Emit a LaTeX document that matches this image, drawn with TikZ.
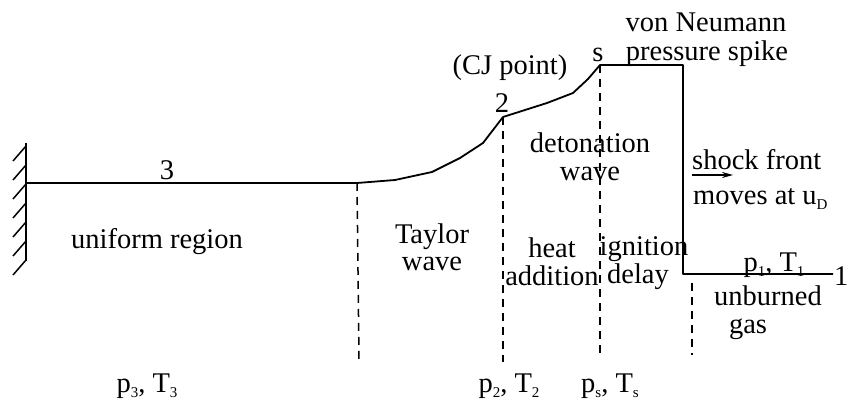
\documentclass[tikz,border=0pt]{standalone}
\usepackage{fontspec}
\setmainfont{Liberation Serif}
\usetikzlibrary{arrows.meta}
\newcommand\lsub[1]{\raisebox{-5pt}{\fontsize{15}{15}\selectfont #1}}
\begin{document}
\begin{tikzpicture}[x=1pt,y=-1pt,
  lbl/.style={inner sep=0pt,anchor=base,font=\fontsize{28.5}{29}\selectfont},
  lbll/.style={lbl,anchor=base west},
  prof/.style={line width=1.8pt,line join=round},
  dashln/.style={line width=1.5pt,dash pattern=on 8pt off 6pt},
  hatch/.style={line width=1.5pt}]
\useasboundingbox (0,0) rectangle (850,403);
% wall
\coordinate (wt) at (26,143);
\coordinate (wb) at (26,261);
\draw[prof] (wt) -- (wb);
\foreach \k in {0,...,6}{
  \draw[hatch] (26,{146+19*\k}) -- (13,{161+19*\k});
}
% profile
\coordinate (p3) at (26,183);
\coordinate (tw) at (357,183);
\coordinate (cj) at (503,117);
\coordinate (sp) at (600,65);
\coordinate (sh) at (683,65);
\coordinate (shb) at (683,274);
\coordinate (p1) at (833,274);
\draw[prof] (p3) -- (tw) -- (395,180) -- (432,172) -- (460,158) -- (483,143) -- (cj)
  -- (547,103) -- (573,93) -- (588,79) -- (sp) -- (sh) -- (shb) -- (p1);
% dashed separators
\coordinate (tw2) at (359,360);
\coordinate (cj2) at (503,362);
\coordinate (sp2) at (600,358);
\coordinate (u1) at (692,283);
\coordinate (u2) at (692,355);
\draw[dashln] (tw) -- (tw2);
\draw[dashln] (cj) -- (cj2);
\draw[dashln] (sp) -- (sp2);
\draw[dashln] (u1) -- (u2);
% arrow
\coordinate (a1) at (692,175);
\coordinate (a2) at (733,175);
\draw[line width=1.5pt,-{Stealth[length=11pt,width=6pt]}] (a1) -- (a2);
% labels
\node[lbl] (l3) at (167,180) {3};
\node[lbl] (lur) at (157,248) {uniform region};
\node[lbl] (ltay1) at (432,243) {Taylor};
\node[lbl] (ltay2) at (432,270) {wave};
\node[lbl] (lcj) at (510,75) {(CJ point)};
\node[lbl] (l2) at (502,113) {2};
\node[lbl] (ls) at (598,62) {s};
\node[lbl] (lvn1) at (706,32) {von Neumann};
\node[lbl] (lvn2) at (707,61) {pressure spike};
\node[lbl] (ldet1) at (590,153) {detonation};
\node[lbl] (ldet2) at (590,181) {wave};
\node[lbl] (lheat1) at (552,257) {heat};
\node[lbl] (lheat2) at (552,285) {addition};
\node[lbl] (lign1) at (644,255) {ignition};
\node[lbl] (lign2) at (638,283) {delay};
\node[lbll] (lsf1) at (692,170) {shock front};
\node[lbll] (lsf2) at (693,205) {moves at u\lsub{D}};
\node[lbl] (lp1) at (774,271) {p\lsub{1}, T\lsub{1}};
\node[lbll] (l1) at (834,285) {1};
\node[lbl] (lub1) at (768,305) {unburned};
\node[lbl] (lub2) at (748,333) {gas};
\node[lbl] (lpt3) at (147,392) {p\lsub{3}, T\lsub{3}};
\node[lbl] (lpt2) at (509,392) {p\lsub{2}, T\lsub{2}};
\node[lbl] (lpts) at (610,392) {p\lsub{s}, T\lsub{s}};
\end{tikzpicture}
\end{document}
